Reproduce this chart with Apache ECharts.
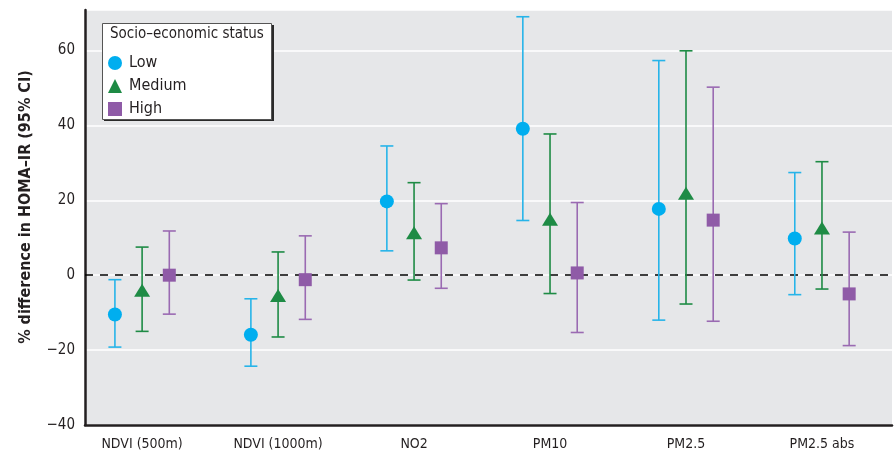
<!DOCTYPE html>
<html><head><meta charset="utf-8">
<script src="https://cdn.jsdelivr.net/npm/echarts@6/dist/echarts.min.js"></script>
<style>html,body{margin:0;padding:0;background:#fff}#c{width:895px;height:451px}</style>
</head><body><div id="c"></div>
<script>
const categories = ['NDVI (500m)', 'NDVI (1000m)', 'NO2', 'PM10', 'PM2.5', 'PM2.5 abs'];
const yTicks = [-40, -20, 0, 20, 40, 60];
const seriesNames = ['Low', 'Medium', 'High'];
const lowEst   = [-10.5, -15.9, 19.7, 39.1, 17.7, 9.8];
const lowLo    = [-19.2, -24.3, 6.5, 14.6, -12.0, -5.2];
const lowHi    = [-1.2, -6.3, 34.5, 69.0, 57.3, 27.4];
const medEst   = [-4.0, -5.4, 11.3, 14.9, 21.9, 12.6];
const medLo    = [-15.0, -16.5, -1.3, -4.9, -7.7, -3.7];
const medHi    = [7.5, 6.2, 24.7, 37.7, 59.9, 30.3];
const highEst  = [0.0, -1.2, 7.3, 0.6, 14.7, -5.0];
const highLo   = [-10.4, -11.8, -3.5, -15.3, -12.3, -18.8];
const highHi   = [11.8, 10.5, 19.1, 19.4, 50.2, 11.5];

const FONT = '"Liberation Sans Narrow","DejaVu Sans Condensed","Roboto Condensed",sans-serif';
const groups = [
  {name: 'Low', est: lowEst, lo: lowLo, hi: lowHi, off: -0.2, color: '#00aeef', bar: '#27b4e9', symbol: 'circle', size: 14},
  {name: 'Medium', est: medEst, lo: medLo, hi: medHi, off: 0, color: '#1e8b45', bar: '#1e8b45', symbol: 'triangle', size: [16, 13]},
  {name: 'High', est: highEst, lo: highLo, hi: highHi, off: 0.2, color: '#8f5ba7', bar: '#9a6ab2', symbol: 'rect', size: 13}
];

const series = [];
groups.forEach(function (g) {
  series.push({
    type: 'custom',
    name: g.name + ' CI',
    z: 3,
    silent: true,
    data: categories.map(function (c, i) { return [i + 1 + g.off, g.lo[i], g.hi[i]]; }),
    encode: {x: 0, y: [1, 2]},
    renderItem: function (params, api) {
      const x = api.value(0);
      const p1 = api.coord([x, api.value(1)]);
      const p2 = api.coord([x, api.value(2)]);
      const hw = 6.5;
      const st = {stroke: g.bar, lineWidth: 1.6};
      return {type: 'group', children: [
        {type: 'line', shape: {x1: p1[0], y1: p1[1], x2: p2[0], y2: p2[1]}, style: st},
        {type: 'line', shape: {x1: p1[0] - hw, y1: p1[1], x2: p1[0] + hw, y2: p1[1]}, style: st},
        {type: 'line', shape: {x1: p2[0] - hw, y1: p2[1], x2: p2[0] + hw, y2: p2[1]}, style: st}
      ]};
    }
  });
});
groups.forEach(function (g, gi) {
  const s = {
    type: 'scatter',
    name: g.name,
    z: 5,
    symbol: g.symbol,
    symbolSize: g.size,
    itemStyle: {color: g.color, opacity: 1},
    data: categories.map(function (c, i) { return [i + 1 + g.off, g.est[i]]; })
  };
  if (gi === 0) {
    s.markLine = {
      silent: true, symbol: 'none', z: 2,
      label: {show: false},
      lineStyle: {color: '#000000', type: [8, 7], width: 1.5, opacity: 1},
      data: [{yAxis: 0}]
    };
  }
  series.push(s);
});

const chart = echarts.init(document.getElementById('c'));
chart.setOption({
  animation: false,
  backgroundColor: '#ffffff',
  textStyle: {fontFamily: FONT},
  grid: {left: 85, right: 3, top: 10, bottom: 26, show: true, backgroundColor: '#e6e7e9', borderWidth: 0},
  title: {
    text: 'Socio\u2013economic status', left: 110, top: 27, z: 12, padding: 0,
    textStyle: {fontFamily: FONT, fontSize: 15, fontWeight: 'normal', color: '#231f20'}
  },
  graphic: [
    {
      type: 'rect', z: 9, left: 104, top: 25,
      shape: {width: 170, height: 96},
      style: {fill: '#2a2a2a'}
    },
    {
      type: 'rect', z: 10, left: 102, top: 23,
      shape: {width: 169, height: 96},
      style: {fill: '#ffffff', stroke: '#555', lineWidth: 1}
    },
    {
      type: 'text', z: 10, x: 26, y: 207, rotation: Math.PI / 2,
      style: {
        text: '% difference in HOMA\u2013IR (95% CI)',
        fontFamily: FONT, fontSize: 16, fontWeight: 'bold', fill: '#231f20',
        align: 'center', verticalAlign: 'middle'
      }
    }
  ],
  legend: {
    z: 12,
    orient: 'vertical', left: 108, top: 55, padding: 0,
    itemWidth: 14, itemHeight: 14, itemGap: 7,
    data: seriesNames,
    textStyle: {fontFamily: FONT, fontSize: 16, color: '#231f20', padding: [0, 0, 0, 2]},
    selectedMode: false
  },
  xAxis: {
    type: 'value', min: 0.58, max: 6.515,
    axisLine: {show: true, onZero: false, lineStyle: {color: '#231f20', width: 2.5}},
    axisTick: {show: false},
    splitLine: {show: false},
    axisLabel: {
      customValues: [1, 2, 3, 4, 5, 6],
      formatter: function (v) { return categories[Math.round(v) - 1] || ''; },
      fontFamily: FONT, fontSize: 14, color: '#231f20', margin: 12
    }
  },
  yAxis: {
    type: 'value', min: -40, max: 70.8, interval: 20,
    axisLine: {show: true, lineStyle: {color: '#231f20', width: 2.5}},
    axisTick: {show: false},
    splitLine: {show: true, lineStyle: {color: '#ffffff', width: 1.5}},
    axisLabel: {
      showMaxLabel: false,
      formatter: function (v) { return v < 0 ? '\u2212' + Math.abs(v) : String(v); },
      fontFamily: FONT, fontSize: 15, color: '#231f20', margin: 10
    }
  },
  series: series
});
</script>
</body></html>
